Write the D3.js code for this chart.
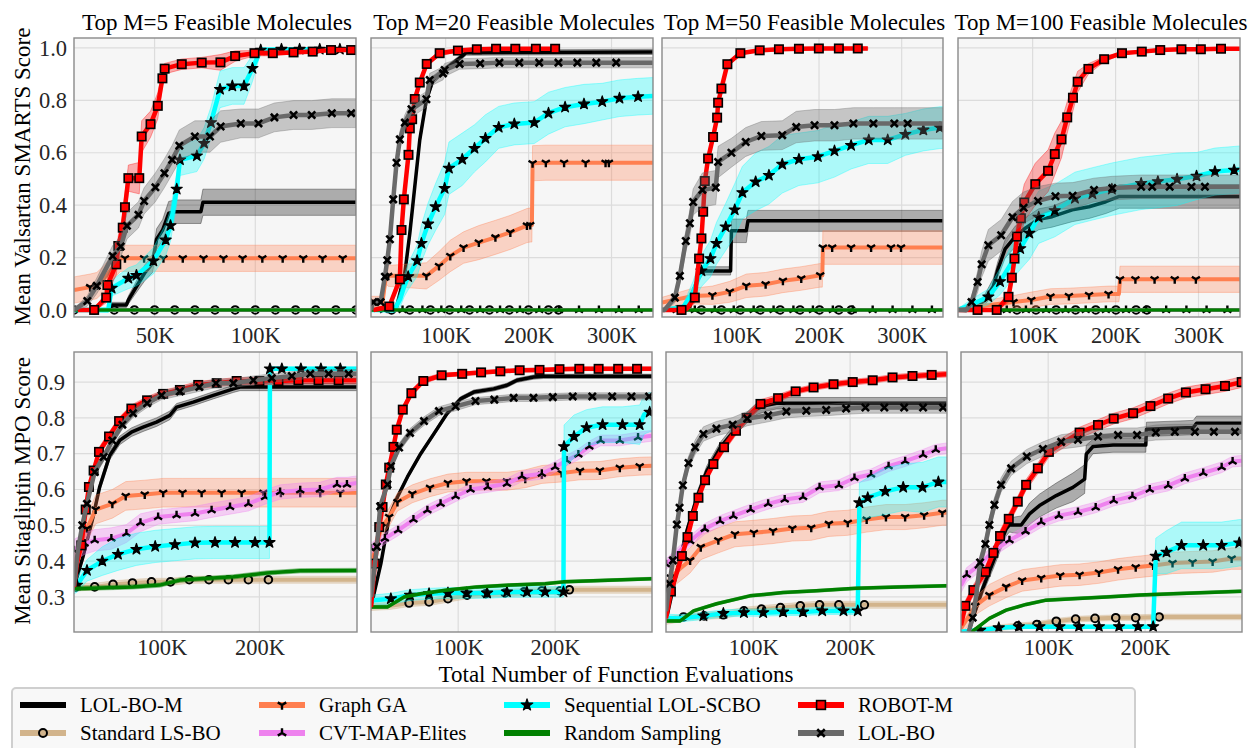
<!DOCTYPE html>
<html><head><meta charset="utf-8">
<script src="https://cdn.jsdelivr.net/npm/d3@7"></script>
<style>body{margin:0;background:#fff;} svg{display:block;} svg text{font-family:'Liberation Serif','Times New Roman',serif !important;}</style>
</head><body><svg id="c" width="1249" height="748"></svg>
<script>
// ---------- DATA: [evaluations (K), mean score, band half-width, (0 = no marker)] ----------
// Top row: Valsartan SMARTS
const val5_lolbom = [[10,0,0.005],[27,0,0.005],[28,0.019,0.01],[36,0.019,0.01],[37,0.038,0.015],[40,0.076,0.02],[45,0.14,0.03],[49,0.178,0.035],[51,0.27,0.04],[54,0.305,0.04],[57,0.369,0.045],[60,0.375,0.045],[73,0.375,0.045],[74,0.411,0.05],[150,0.411,0.05]];
const val5_lsbo = [[10,0,0],[20,0,0],[30,0,0],[40,0,0],[50,0,0],[60,0,0],[70,0,0],[80,0,0],[90,0,0],[100,0,0],[110,0,0],[120,0,0],[130,0,0],[140,0,0],[150,0,0]];
const val5_graphga = [[10,0.076,0.05,0],[18,0.087,0.05],[21.3,0.093,0.05],[25,0.12,0.05,0],[30,0.17,0.05,0],[33,0.197,0.05,0],[35.3,0.197,0.05],[44.8,0.197,0.05],[54.4,0.197,0.05],[64,0.197,0.05],[74.3,0.197,0.05],[84.2,0.197,0.05],[93.7,0.197,0.05],[103.5,0.197,0.05],[113.6,0.197,0.05],[123.8,0.197,0.05],[133.4,0.197,0.05],[143.4,0.197,0.05],[150,0.197,0.05,0]];
const val5_cvt = [[10,0,0,0],[150,0,0,0]];
const val5_seq = [[10,0,0.005,0],[27,0,0.01,0],[28.7,0.083,0.03],[37,0.121,0.04],[41,0.132,0.04],[49.4,0.187,0.05],[55.5,0.267,0.06],[57.9,0.322,0.06],[61,0.461,0.06],[62.6,0.573,0.06],[71,0.588,0.06],[74.6,0.636,0.06],[78,0.715,0.06],[82.5,0.842,0.07],[88.6,0.855,0.07],[94.4,0.855,0.07],[98.6,0.922,0.05],[102.7,0.992,0.01],[113,0.995,0.005],[122,0.995,0.005],[132,0.995,0.005],[142,0.995,0.005],[150,0.995,0.005,0]];
const val5_random = [[10,0,0],[150,0,0]];
const val5_robot = [[12,0,0.005,0],[20,0,0.005],[26,0.047,0.02],[26.6,0.095,0.03],[31,0.174,0.04],[32,0.244,0.04],[34.2,0.314,0.05],[35.3,0.392,0.05],[37,0.503,0.05],[42.4,0.503,0.06],[43.6,0.662,0.06],[48,0.709,0.05],[51.6,0.779,0.05],[53.9,0.884,0.03],[55,0.921,0.02],[63.5,0.938,0.02],[73.4,0.944,0.02],[82.7,0.945,0.03],[90,0.969,0.02],[99.6,0.98,0.01],[108.7,0.98,0.01],[119,0.983,0.005],[128.5,0.986,0.005],[137.6,0.992,0.005],[147.6,0.992,0.005],[150,0.992,0.005,0]];
const val5_lolbo = [[10,0,0.005,0],[16.6,0.034,0.02],[21.3,0.092,0.03],[29.2,0.206,0.04],[33.2,0.242,0.04],[36.3,0.321,0.05],[42,0.363,0.05],[44.8,0.416,0.05],[50.4,0.468,0.055],[54.9,0.522,0.055],[58.7,0.573,0.055],[62.3,0.627,0.06],[70,0.662,0.06],[77.5,0.662,0.06],[82.8,0.70,0.06],[92.8,0.712,0.055],[101.6,0.712,0.055],[109.5,0.735,0.055],[119,0.744,0.055],[128,0.744,0.055],[138,0.751,0.055],[147.6,0.751,0.055],[150,0.751,0.055,0]];

const val20_lolbom = [[10,0,0.005],[40,0,0.005],[50.8,0.14,0.02],[56.8,0.293,0.02],[62.8,0.471,0.02],[68.8,0.649,0.02],[76.8,0.802,0.015],[84.8,0.878,0.015],[100.8,0.922,0.01],[116.8,0.961,0.01],[124.8,0.982,0.01],[350,0.985,0.01]];
const val20_lsbo = [[10,0,0,0],[34.8,0,0],[56.8,0,0],[81.6,0,0],[104.8,0,0],[128.8,0,0],[152.8,0,0],[176.8,0,0],[200,0,0],[224,0,0],[236,0,0]];
const val20_graphga = [[10,0.032,0.02,0],[24,0.032,0.02,0],[28,0.13,0.03,0],[30.8,0.13,0.04],[76.8,0.13,0.05],[92,0.168,0.055],[105.6,0.206,0.06],[121.6,0.238,0.06],[140,0.257,0.065],[160,0.277,0.065],[178,0.296,0.065],[198,0.322,0.065],[202,0.324,0.065],[204,0.324,0.065,0],[204.8,0.56,0.067],[220.8,0.562,0.067],[242.8,0.562,0.067],[268.8,0.562,0.067],[292.8,0.562,0.067],[296.8,0.562,0.067],[350,0.562,0.067,0]];
const val20_cvt = [[10,0,0,0],[25.6,0,0],[48,0,0],[72,0,0],[94.8,0,0],[118.8,0,0],[141.6,0,0],[165.6,0,0],[189.6,0,0],[212.8,0,0],[236.8,0,0],[260.8,0,0],[284.8,0,0],[308.8,0,0],[332.8,0,0],[350,0,0,0]];
const val20_seq = [[10,0,0.005,0],[38,0,0.01,0],[45,0.04,0.03,0],[50,0.09,0.04,0],[54.8,0.127,0.05],[65.6,0.188,0.06],[70.8,0.254,0.07],[78.8,0.328,0.08],[88,0.394,0.09],[98.8,0.464,0.1],[104,0.541,0.1],[120,0.575,0.1],[134.8,0.617,0.09],[148,0.655,0.09],[164,0.697,0.08],[182.8,0.71,0.08],[206.8,0.715,0.08],[224,0.751,0.08],[244,0.774,0.075],[266.8,0.786,0.075],[288.8,0.795,0.07],[309.6,0.808,0.07],[332,0.814,0.07],[350,0.817,0.07,0]];
const val20_random = [[10,0,0],[350,0,0]];
const val20_robot = [[13,0,0.005,0],[32,0.013,0.01],[44.8,0.117,0.02],[46.8,0.305,0.02],[49.6,0.422,0.02],[55.2,0.592,0.02],[56.8,0.693,0.02],[59.6,0.728,0.02],[62.8,0.805,0.02],[68.8,0.868,0.015],[77.2,0.939,0.01],[92.8,0.98,0.01],[114.8,0.99,0.005],[137.6,0.995,0.005],[160.8,0.997,0.005],[184,0.997,0.005],[208.8,0.997,0.005],[232,0.997,0.005],[236,0.997,0.005,0]];
const val20_lolbo = [[10,0,0.005,0],[12.8,0.03,0.01],[21.6,0.03,0.01],[26.8,0.127,0.02],[29.6,0.19,0.03],[32.8,0.27,0.03],[36.8,0.422,0.03],[40.8,0.562,0.03],[44.8,0.651,0.03],[50.8,0.715,0.03],[58.8,0.766,0.03],[76.8,0.804,0.03],[80.8,0.878,0.025],[96.8,0.903,0.025],[98.8,0.916,0.025],[116.8,0.939,0.02],[141.6,0.941,0.02],[164.8,0.944,0.02],[188.8,0.944,0.02],[212.8,0.944,0.02],[236,0.944,0.02],[258.8,0.944,0.02],[281.6,0.944,0.02],[305.6,0.944,0.02],[350,0.944,0.02,0]];

const val50_lolbom = [[10,0,0.005],[43,0,0.005],[47,0.066,0.015],[55,0.13,0.016],[59,0.149,0.016],[93,0.149,0.016],[94,0.302,0.045],[112,0.302,0.045],[114,0.34,0.04],[350,0.34,0.04]];
const val50_lsbo = [[10,0,0,0],[34.4,0,0],[57.7,0,0],[81.9,0,0],[104.8,0,0],[129,0,0],[153,0,0],[177,0,0],[200.6,0,0],[224,0,0],[239,0,0]];
const val50_graphga = [[10,0.028,0.02,0],[47.7,0.053,0.03,0],[71,0.056,0.035],[92,0.069,0.04],[112,0.092,0.045],[135.4,0.098,0.045],[156.3,0.111,0.045],[178.5,0.12,0.045],[201.4,0.132,0.045],[204,0.132,0.045,0],[204.6,0.238,0.064],[215.9,0.238,0.064],[238.8,0.238,0.064],[263,0.238,0.064],[287.1,0.238,0.064],[299.2,0.238,0.064],[350,0.238,0.064,0]];
const val50_cvt = [[10,0,0,0],[27.6,0,0],[49.7,0,0],[73.8,0,0],[96.8,0,0],[120.9,0,0],[145,0,0],[169,0,0],[192.6,0,0],[216.7,0,0],[240.8,0,0],[264.9,0,0],[289,0,0],[313,0,0],[336.6,0,0],[350,0,0,0]];
const val50_seq = [[10,0,0.005,0],[35.6,0.01,0.01,0],[47.7,0.07,0.04,0],[57.7,0.149,0.06],[68.6,0.196,0.07],[75.9,0.254,0.08],[87.1,0.317,0.09],[98,0.382,0.1],[107.3,0.448,0.1],[123.3,0.489,0.11],[139.4,0.514,0.11],[155.5,0.556,0.11],[175.7,0.575,0.1],[198.6,0.585,0.1],[218.7,0.607,0.1],[238.8,0.628,0.09],[260.2,0.649,0.09],[283.1,0.649,0.09],[304.4,0.67,0.08],[326.2,0.687,0.08],[346.3,0.696,0.08],[350,0.696,0.08,0]];
const val50_random = [[10,0,0],[350,0,0]];
const val50_robot = [[10,0,0.005,0],[33.6,0,0.005],[40,0.005,0.01,0],[49.7,0.047,0.02],[54.9,0.196,0.02],[57.7,0.273,0.02],[59.8,0.375,0.02],[61.8,0.492,0.02],[65.8,0.578,0.02],[71.8,0.66,0.02],[76.7,0.734,0.02],[77.9,0.791,0.02],[81.9,0.845,0.02],[89.1,0.938,0.01],[104.8,0.98,0.005],[128.2,0.991,0.005],[151.5,0.995,0.005],[175.7,0.997,0.005],[199.8,0.998,0.005],[224,0.998,0.005],[246.9,0.998,0.005],[259,0.998,0.005,0]];
const val50_lolbo = [[10,0,0.005,0],[13,0,0.005,0],[25.6,0.047,0.02],[31.6,0.13,0.03],[38.8,0.263,0.04],[43.7,0.331,0.05],[47.7,0.412,0.05],[58.9,0.458,0.065],[75,0.467,0.065],[77.9,0.565,0.06],[94,0.60,0.055],[111.3,0.641,0.055],[130.2,0.664,0.055],[155.5,0.667,0.055],[172.4,0.698,0.06],[194.6,0.705,0.06],[218.7,0.705,0.06],[241.6,0.712,0.06],[265.8,0.712,0.06],[291.1,0.712,0.06],[307.2,0.712,0.06],[350,0.712,0.06,0]];

const val100_lolbom = [[10,0,0.005],[30,0,0.005],[42.5,0.04,0.02],[52.6,0.09,0.03],[57.9,0.153,0.03],[66.8,0.233,0.035],[79,0.28,0.04],[91.1,0.312,0.04],[107.3,0.346,0.04],[123.5,0.356,0.04],[147.8,0.382,0.045],[168,0.394,0.045],[188.3,0.413,0.045],[204.5,0.433,0.045],[350,0.433,0.045]];
const val100_lsbo = [[10,0,0,0],[81,0,0],[104,0,0],[128.3,0,0],[151.8,0,0],[176.1,0,0],[200.4,0,0],[224.7,0,0],[237.7,0,0]];
const val100_graphga = [[10,0.003,0.005,0],[50.6,0.02,0.02,0],[76.9,0.03,0.025],[98.4,0.038,0.03],[121.5,0.051,0.03],[143.7,0.053,0.03],[168,0.057,0.03],[191.5,0.061,0.03],[204,0.061,0.03,0],[205.3,0.117,0.05],[223.9,0.117,0.05],[247,0.117,0.05],[271.3,0.117,0.05],[296.8,0.117,0.05],[350,0.117,0.05,0]];
const val100_cvt = [[10,0,0,0],[68.8,0,0],[91.9,0,0],[116.2,0,0],[139.7,0,0],[164,0,0],[188.3,0,0],[212.6,0,0],[237,0,0],[261,0,0],[285.4,0,0],[309.7,0,0],[334.8,0,0],[350,0,0,0]];
const val100_seq = [[10,0,0.005,0],[26,0.02,0.02,0],[46.6,0.05,0.03],[60.7,0.108,0.05],[85,0.234,0.08],[96,0.293,0.1],[107.3,0.354,0.1],[126.7,0.379,0.1],[151,0.426,0.1],[172.1,0.443,0.1],[195.5,0.461,0.1],[230.8,0.483,0.1],[251,0.49,0.1],[274.1,0.499,0.1],[297.6,0.511,0.09],[319.8,0.528,0.09],[342.9,0.534,0.09],[350,0.536,0.09,0]];
const val100_random = [[10,0,0],[350,0,0]];
const val100_robot = [[10,0,0.005,0],[33.6,0,0.005],[56.7,0,0.005],[70.9,0.05,0.02],[74.9,0.123,0.03],[78.1,0.196,0.04],[81,0.28,0.05],[85.8,0.35,0.07],[89.9,0.41,0.07],[103.2,0.48,0.08],[118.6,0.531,0.08],[126.7,0.595,0.08],[134.8,0.651,0.07],[141.7,0.735,0.06],[148.6,0.81,0.05],[154.3,0.871,0.04],[167.2,0.92,0.02],[186.2,0.957,0.01],[207.7,0.98,0.005],[231.6,0.986,0.005],[253.8,0.992,0.005],[279.4,0.995,0.005],[302.8,0.995,0.005],[327.1,0.997,0.005],[350,0.997,0.005,0]];
const val100_lolbo = [[10,0,0.005,0],[20,0,0.01,0],[26.3,0.03,0.02],[33.6,0.107,0.04],[38.5,0.174,0.05],[46.6,0.247,0.06],[62,0.285,0.06],[75.7,0.354,0.06],[89.1,0.39,0.06],[106.5,0.416,0.055],[127.5,0.434,0.05],[148.2,0.436,0.05],[174,0.458,0.045],[196,0.465,0.045],[230.8,0.47,0.045],[244.1,0.47,0.045],[265.2,0.47,0.045],[291.5,0.47,0.045],[307.7,0.47,0.045],[350,0.47,0.045,0]];

// Bottom row: Sitagliptin MPO
const sit5_lolbom = [[10,0.328,0.01],[19.2,0.412,0.01],[29.5,0.523,0.012],[36.3,0.607,0.012],[46.6,0.695,0.012],[56.8,0.737,0.012],[68.8,0.76,0.012],[80.8,0.774,0.012],[94.5,0.788,0.012],[108.2,0.807,0.012],[115.1,0.83,0.01],[132.2,0.844,0.01],[152.7,0.863,0.01],[173.3,0.881,0.01],[180.1,0.886,0.01],[300,0.886,0.01]];
const sit5_lsbo = [[10,0.328,0.01,0],[12.3,0.328,0.01],[31.2,0.328,0.01],[50,0.335,0.01],[69.9,0.339,0.01],[89.4,0.342,0.01],[108.9,0.342,0.01],[128.1,0.348,0.01],[148.3,0.348,0.01],[168.2,0.348,0.01],[188.7,0.348,0.01],[209.2,0.348,0.01],[300,0.348,0.01,0]];
const sit5_graphga = [[10,0.393,0.03,0],[23.3,0.491,0.035],[32.2,0.544,0.04],[49.3,0.56,0.04],[63,0.582,0.04],[82.5,0.586,0.04],[101.4,0.591,0.04],[121.2,0.591,0.04],[140.8,0.591,0.04],[161.3,0.591,0.04],[181.8,0.591,0.04],[204.1,0.591,0.04],[222,0.591,0.04],[241.8,0.591,0.04],[262.3,0.591,0.04],[282.9,0.591,0.04],[300,0.591,0.04,0]];
const sit5_cvt = [[10,0.43,0.03],[20.9,0.449,0.03],[31.2,0.458,0.03],[48.3,0.463,0.03],[63.7,0.477,0.025],[78.1,0.507,0.025],[96.2,0.523,0.02],[115.1,0.528,0.02],[134,0.533,0.02],[151,0.542,0.02],[169.9,0.551,0.02],[188.7,0.56,0.02],[205.8,0.579,0.02],[221.2,0.593,0.02],[241.8,0.598,0.02],[262,0.6,0.02],[279.5,0.614,0.02],[289.7,0.614,0.02],[300,0.618,0.02,0]];
const sit5_seq = [[10,0.319,0.01,0],[13,0.333,0.02],[23.3,0.374,0.03],[39,0.4,0.04],[55.1,0.419,0.045],[74,0.433,0.045],[93.2,0.441,0.045],[113.4,0.446,0.045],[134,0.451,0.045],[154.5,0.452,0.045],[175,0.452,0.045],[195.5,0.452,0.045],[210.3,0.452,0.045],[210.8,0.937,0.005],[223,0.937,0.005],[242.5,0.937,0.005],[263,0.937,0.005],[282.9,0.937,0.005],[300,0.937,0.005,0]];
const sit5_random = [[10,0.323,0.006],[70.5,0.328,0.006],[97.9,0.333,0.006],[118.5,0.347,0.006],[173.3,0.356,0.006],[207.5,0.367,0.006],[241.8,0.373,0.006],[300,0.374,0.006]];
const sit5_robot = [[10,0.328,0.01,0],[13,0.393,0.01,0],[17.5,0.444,0.012],[22,0.544,0.012],[25.3,0.607,0.012],[30.1,0.653,0.012],[35.6,0.705,0.012],[45.9,0.748,0.012],[56.2,0.791,0.01],[68.8,0.826,0.01],[84.9,0.849,0.01],[101.4,0.867,0.01],[118.5,0.878,0.01],[137.3,0.892,0.01],[156.2,0.897,0.01],[176.7,0.903,0.01],[200,0.903,0.01],[219.5,0.903,0.01],[240,0.905,0.01],[260.6,0.905,0.01],[281.2,0.905,0.01],[300,0.905,0.01,0]];
const sit5_lolbo = [[10,0.33,0.01,0],[14,0.43,0.012,0],[18.5,0.5,0.012],[23.3,0.56,0.012],[31.2,0.649,0.012],[40.4,0.691,0.012],[49.3,0.737,0.012],[59.6,0.781,0.012],[70.5,0.813,0.012],[84.9,0.841,0.012],[99.7,0.863,0.012],[118.5,0.874,0.012],[138.4,0.886,0.012],[155.5,0.897,0.012],[173.3,0.897,0.012],[193.8,0.905,0.012],[212.7,0.911,0.012],[233.2,0.917,0.012],[252.1,0.923,0.012],[270.9,0.923,0.012],[291.4,0.923,0.012],[300,0.923,0.012,0]];

const sit20_lolbom = [[10,0.272,0.005],[20.2,0.393,0.006],[28.8,0.523,0.006],[37.3,0.579,0.006],[47.6,0.635,0.006],[61.3,0.7,0.006],[75,0.756,0.006],[88.7,0.813,0.006],[102.4,0.853,0.006],[116.1,0.872,0.006],[136.6,0.881,0.006],[150.3,0.891,0.006],[160.6,0.905,0.006],[177.7,0.914,0.006],[188,0.916,0.006],[300,0.916,0.006]];
const sit20_lsbo = [[10,0.272,0.01,0],[30,0.275,0.01,0],[49.3,0.283,0.01],[69.9,0.286,0.01],[89.4,0.295,0.01],[109.2,0.305,0.01],[128.4,0.309,0.01],[148.3,0.311,0.01],[167.8,0.314,0.01],[186.3,0.317,0.01],[205.1,0.317,0.01],[214.7,0.32,0.01],[300,0.32,0.01,0]];
const sit20_graphga = [[10,0.393,0.025,0],[20.9,0.495,0.025],[28.8,0.523,0.025],[37.3,0.565,0.025],[52.7,0.588,0.025],[70.9,0.605,0.025],[89.4,0.618,0.025],[108.6,0.623,0.025],[129.1,0.623,0.025],[150.3,0.623,0.025],[169.2,0.63,0.025],[186.3,0.642,0.025],[206.8,0.646,0.025],[225.7,0.652,0.025],[246.2,0.653,0.025],[266.8,0.661,0.025],[287.3,0.665,0.025],[300,0.666,0.025,0]];
const sit20_cvt = [[10,0.435,0.015],[24.3,0.463,0.015],[38,0.486,0.015],[53.8,0.516,0.015],[68.2,0.542,0.015],[81.8,0.56,0.015],[97.3,0.581,0.015],[112.7,0.6,0.015],[130.5,0.607,0.015],[150.3,0.616,0.015],[165.8,0.637,0.015],[186.3,0.644,0.015],[200,0.663,0.015],[212,0.681,0.015],[224,0.698,0.015],[235.3,0.72,0.015],[247,0.737,0.015],[266.8,0.737,0.015],[285.6,0.745,0.015],[300,0.75,0.015,0]];
const sit20_seq = [[10,0.29,0.015,0],[30.5,0.295,0.015],[50.3,0.305,0.015],[69.9,0.309,0.015],[89.4,0.311,0.015],[108.6,0.311,0.015],[129.8,0.311,0.015],[150.3,0.314,0.015],[170.9,0.314,0.015],[189.7,0.314,0.015],[208.6,0.314,0.015],[209.2,0.72,0.06],[219.5,0.748,0.06],[232.5,0.773,0.05],[249,0.781,0.05],[269.5,0.781,0.05],[287.3,0.781,0.055],[292,0.81,0.055,0],[297.6,0.816,0.055],[300,0.816,0.055,0]];
const sit20_random = [[10,0.272,0.004],[27,0.272,0.004],[44.2,0.3,0.004],[61.3,0.309,0.004],[88.7,0.319,0.004],[119.5,0.328,0.004],[153.8,0.333,0.004],[189.7,0.337,0.004],[208.6,0.342,0.004],[239.4,0.345,0.004],[300,0.351,0.004]];
const sit20_robot = [[10,0.272,0.01,0],[14,0.393,0.01],[18.5,0.495,0.01],[21.9,0.551,0.01],[25.3,0.614,0.01],[28.8,0.661,0.01],[33.2,0.719,0.01],[36.6,0.767,0.01],[42.8,0.823,0.01],[51.7,0.869,0.01],[64,0.903,0.008],[82.9,0.919,0.006],[104.1,0.923,0.005],[123.6,0.927,0.005],[143.5,0.93,0.005],[163.4,0.933,0.005],[183.9,0.934,0.005],[204.5,0.936,0.005],[225,0.937,0.005],[244.9,0.937,0.005],[265.1,0.937,0.005],[284.6,0.937,0.005],[300,0.937,0.005,0]];
const sit20_lolbo = [[10,0.3,0.01,0],[16.1,0.44,0.012],[19.5,0.553,0.012],[27,0.614,0.012],[30.5,0.665,0.012],[39,0.717,0.012],[50.3,0.758,0.012],[64.7,0.791,0.012],[80.1,0.819,0.012],[97.3,0.832,0.012],[117.8,0.847,0.01],[137.3,0.851,0.01],[157.2,0.856,0.01],[177.7,0.856,0.01],[197.6,0.858,0.01],[218.2,0.86,0.01],[238.4,0.86,0.01],[258.9,0.86,0.01],[278.8,0.86,0.01],[297,0.86,0.01],[300,0.86,0.01,0]];

const sit50_lolbom = [[10,0.233,0.005],[21.2,0.372,0.01],[31.5,0.484,0.012],[41.8,0.577,0.014],[52.1,0.651,0.015],[65.8,0.716,0.015],[79.5,0.762,0.015],[93.2,0.8,0.015],[103.4,0.825,0.016],[113.7,0.835,0.016],[124,0.841,0.016],[300,0.841,0.016]];
const sit50_lsbo = [[10,0.233,0.01,0],[24,0.24,0.01,0],[28.1,0.244,0.01],[49.3,0.247,0.01],[69.2,0.25,0.01],[90.4,0.261,0.01],[108.6,0.266,0.01],[128.1,0.27,0.01],[148.6,0.275,0.01],[168.5,0.278,0.01],[188.4,0.278,0.01],[214.7,0.278,0.01],[300,0.278,0.01,0]];
const sit50_graphga = [[10,0.3,0.03,0],[15,0.354,0.03],[25,0.38,0.035,0],[34.9,0.402,0.035],[45.9,0.439,0.035],[64,0.458,0.035],[81.2,0.475,0.035],[100.7,0.479,0.035],[120.5,0.484,0.035],[140.4,0.491,0.035],[159.9,0.493,0.035],[178.1,0.504,0.035],[197.6,0.507,0.035],[217.1,0.516,0.035],[237,0.523,0.035],[256.8,0.523,0.035],[276.4,0.528,0.035],[295.2,0.535,0.035],[300,0.535,0.035,0]];
const sit50_cvt = [[10,0.391,0.015],[34.9,0.456,0.015],[50,0.49,0.015],[65.8,0.512,0.015],[79.5,0.526,0.015],[97.3,0.544,0.015],[115.4,0.56,0.015],[132.5,0.572,0.015],[151.4,0.579,0.015],[168.5,0.606,0.015],[188.4,0.612,0.015],[204.5,0.632,0.015],[221.6,0.642,0.015],[239.7,0.665,0.015],[256.8,0.679,0.015],[275.3,0.697,0.015],[288.4,0.711,0.015],[300,0.715,0.015,0]];
const sit50_seq = [[10,0.242,0.01,0],[24,0.24,0.01,0],[48.6,0.247,0.01],[69.2,0.254,0.01],[90.4,0.256,0.01],[110.3,0.256,0.01],[130.8,0.258,0.01],[151.4,0.258,0.01],[171.2,0.261,0.01],[193.2,0.261,0.01],[207.9,0.261,0.01],[209.6,0.563,0.056],[218.2,0.577,0.056],[236.3,0.595,0.065],[254.8,0.606,0.065],[274.7,0.606,0.07],[291.1,0.621,0.07],[300,0.621,0.07,0]];
const sit50_random = [[10,0.233,0.004],[24.7,0.233,0.004],[38.4,0.261,0.004],[62.3,0.281,0.004],[96.6,0.303,0.004],[130.8,0.312,0.004],[165.1,0.317,0.004],[206.2,0.324,0.004],[250.7,0.328,0.004],[300,0.331,0.004]];
const sit50_robot = [[10,0.24,0.01,0],[15.1,0.315,0.012],[26.4,0.414,0.012],[32.2,0.467,0.012],[37.7,0.526,0.012],[43.5,0.577,0.012],[50.3,0.626,0.012],[58.9,0.671,0.012],[69.9,0.718,0.012],[82.2,0.764,0.012],[93.2,0.8,0.012],[107.5,0.839,0.012],[125.7,0.855,0.01],[143.8,0.874,0.008],[162.3,0.885,0.008],[182.9,0.894,0.008],[202.7,0.9,0.008],[223.3,0.905,0.008],[243.8,0.913,0.008],[264.4,0.917,0.008],[284.2,0.92,0.008],[300,0.922,0.008,0]];
const sit50_lolbo = [[10,0.26,0.01,0],[13.7,0.337,0.015],[17.1,0.402,0.015],[21.2,0.502,0.015],[24,0.549,0.015],[27.4,0.612,0.015],[33.2,0.674,0.018],[40.1,0.718,0.02],[48.6,0.755,0.02],[62,0.77,0.02],[78.8,0.781,0.02],[93.8,0.798,0.02],[115.4,0.807,0.018],[134.2,0.818,0.018],[154.8,0.82,0.016],[175.3,0.822,0.016],[195.9,0.826,0.016],[215.8,0.829,0.016],[235.3,0.829,0.016],[255.8,0.829,0.016],[275.3,0.829,0.016],[295.9,0.829,0.016],[300,0.829,0.016,0]];

const sit100_lolbom = [[18,0.203,0.005],[22.1,0.24,0.01],[32.4,0.323,0.015],[44.5,0.407,0.02],[56.6,0.49,0.02],[60,0.501,0.02],[72.1,0.501,0.025],[80.7,0.532,0.03],[91,0.555,0.032],[108.3,0.583,0.035],[125.5,0.606,0.04],[137.6,0.629,0.04],[139.3,0.699,0.025],[146.2,0.72,0.02],[166.9,0.724,0.02],[200.7,0.724,0.02],[201.4,0.768,0.02],[249.7,0.773,0.02],[253.1,0.785,0.02],[300,0.785,0.02]];
const sit100_lsbo = [[10,0.2,0.008,0],[22,0.203,0.008,0],[49,0.214,0.008,0],[68.6,0.219,0.008],[88.3,0.223,0.008],[108.3,0.232,0.008],[128.3,0.238,0.008],[148.3,0.24,0.008],[169.7,0.242,0.008],[190.3,0.242,0.008],[214.5,0.244,0.008],[300,0.244,0.008,0]];
const sit100_graphga = [[10,0.212,0.02,0],[24.8,0.275,0.025],[39.3,0.305,0.03],[56.6,0.328,0.03],[73.1,0.346,0.03],[92.8,0.353,0.03],[112.4,0.36,0.03],[132.4,0.362,0.03],[152.4,0.368,0.03],[172.1,0.377,0.03],[190.3,0.383,0.03],[208.3,0.388,0.03],[228.3,0.395,0.03],[249,0.397,0.03],[269.7,0.399,0.03],[289.3,0.407,0.03],[300,0.407,0.03,0]];
const sit100_cvt = [[10,0.332,0.02,0],[15.9,0.362,0.02],[28.3,0.388,0.02],[44.5,0.43,0.015],[60,0.458,0.015],[76.6,0.483,0.015],[92.8,0.509,0.015],[111,0.527,0.015],[130.7,0.537,0.015],[149,0.55,0.015],[167.6,0.569,0.015],[186.9,0.581,0.015],[204.8,0.6,0.015],[223.8,0.611,0.015],[241,0.631,0.015],[260,0.646,0.015],[279,0.662,0.015],[290.3,0.678,0.015],[300,0.68,0.015,0]];
const sit100_seq = [[10,0.203,0.003,0],[25.5,0.207,0.004,0],[29.7,0.207,0.004],[49,0.214,0.004],[69.7,0.217,0.004],[91,0.217,0.004],[111.7,0.217,0.004],[131.7,0.217,0.004],[152.4,0.217,0.004],[173.1,0.217,0.004],[192.8,0.217,0.004],[208.3,0.217,0.004],[211,0.414,0.05],[222.1,0.425,0.06],[237.6,0.444,0.065],[260,0.444,0.065],[279,0.444,0.065],[297.2,0.451,0.065],[300,0.451,0.065,0]];
const sit100_random = [[20,0.2,0.004],[39.3,0.24,0.004],[56.6,0.263,0.004],[77.2,0.279,0.004],[97.9,0.291,0.004],[125.5,0.295,0.004],[160,0.3,0.004],[194.5,0.305,0.004],[229,0.309,0.004],[300,0.316,0.004]];
const sit100_robot = [[10,0.221,0.01,0],[14.5,0.275,0.015],[22.8,0.319,0.015],[35.2,0.37,0.015],[43.4,0.423,0.015],[50.3,0.47,0.015],[59.3,0.518,0.015],[68.6,0.566,0.015],[77.2,0.613,0.015],[89.3,0.659,0.015],[100.7,0.705,0.015],[115,0.73,0.015,0],[132.4,0.759,0.015],[151.4,0.78,0.015],[167.6,0.798,0.015],[187.6,0.813,0.015],[205.5,0.833,0.015],[223.8,0.854,0.015],[242.1,0.871,0.015],[262.4,0.88,0.015],[282.4,0.889,0.015],[299.7,0.9,0.015]];
const sit100_lolbo = [[18,0.203,0.01,0],[22.1,0.242,0.015],[25.5,0.3,0.015,0],[29.7,0.396,0.02],[35.2,0.448,0.02],[39.3,0.501,0.02],[44.5,0.557,0.02],[51.4,0.613,0.02],[61.7,0.659,0.02],[77.9,0.692,0.02],[94.5,0.713,0.02],[113.4,0.733,0.02],[130.7,0.739,0.02],[151.4,0.748,0.02],[172.1,0.752,0.02],[191.7,0.752,0.02],[211,0.759,0.021],[230.7,0.761,0.021],[251.4,0.761,0.021],[271,0.761,0.021],[292.8,0.761,0.021],[300,0.761,0.021,0]];

const panelTitles = ['Top M=5 Feasible Molecules','Top M=20 Feasible Molecules','Top M=50 Feasible Molecules','Top M=100 Feasible Molecules'];
const seriesKeys = ['lolbom','lsbo','graphga','cvt','seq','random','robot','lolbo'];
const seriesNames = ['LOL-BO-M','Standard LS-BO','Graph GA','CVT-MAP-Elites','Sequential LOL-SCBO','Random Sampling','ROBOT-M','LOL-BO'];
const topYTicks = [0,0.2,0.4,0.6,0.8,1.0];
const botYTicks = [0.3,0.4,0.5,0.6,0.7,0.8,0.9];
const topXTicks = [[50,100],[100,200,300],[100,200,300],[100,200,300]];
const botXTicks = [100,200];
const rowLabels = ['Mean Valsartan SMARTS Score','Mean Sitagliptin MPO Score'];
const xAxisTitle = 'Total Number of Function Evaluations';

const D = {
  val5:{lolbom:val5_lolbom,lsbo:val5_lsbo,graphga:val5_graphga,cvt:val5_cvt,seq:val5_seq,random:val5_random,robot:val5_robot,lolbo:val5_lolbo},
  val20:{lolbom:val20_lolbom,lsbo:val20_lsbo,graphga:val20_graphga,cvt:val20_cvt,seq:val20_seq,random:val20_random,robot:val20_robot,lolbo:val20_lolbo},
  val50:{lolbom:val50_lolbom,lsbo:val50_lsbo,graphga:val50_graphga,cvt:val50_cvt,seq:val50_seq,random:val50_random,robot:val50_robot,lolbo:val50_lolbo},
  val100:{lolbom:val100_lolbom,lsbo:val100_lsbo,graphga:val100_graphga,cvt:val100_cvt,seq:val100_seq,random:val100_random,robot:val100_robot,lolbo:val100_lolbo},
  sit5:{lolbom:sit5_lolbom,lsbo:sit5_lsbo,graphga:sit5_graphga,cvt:sit5_cvt,seq:sit5_seq,random:sit5_random,robot:sit5_robot,lolbo:sit5_lolbo},
  sit20:{lolbom:sit20_lolbom,lsbo:sit20_lsbo,graphga:sit20_graphga,cvt:sit20_cvt,seq:sit20_seq,random:sit20_random,robot:sit20_robot,lolbo:sit20_lolbo},
  sit50:{lolbom:sit50_lolbom,lsbo:sit50_lsbo,graphga:sit50_graphga,cvt:sit50_cvt,seq:sit50_seq,random:sit50_random,robot:sit50_robot,lolbo:sit50_lolbo},
  sit100:{lolbom:sit100_lolbom,lsbo:sit100_lsbo,graphga:sit100_graphga,cvt:sit100_cvt,seq:sit100_seq,random:sit100_random,robot:sit100_robot,lolbo:sit100_lolbo}
};

// ---------- STYLE ----------
const STYLE = {
  lolbom:{color:'#000000', lw:3.5, marker:null, ba:0.3},
  lsbo:{color:'#d2b48c', lw:4, marker:'circle', ba:0.45},
  graphga:{color:'#ff7f50', lw:4, marker:'tridown', ba:0.3},
  cvt:{color:'#ee82ee', lw:4, marker:'triup', ba:0.35},
  seq:{color:'#00ffff', lw:4.5, marker:'star', ba:0.3},
  random:{color:'#008000', lw:3.5, marker:null, ba:0.3},
  robot:{color:'#ff0000', lw:4.5, marker:'square', ba:0.3},
  lolbo:{color:'#696969', lw:4.5, marker:'x', ba:0.35}
};
const FONT_T = 23, FONT_TICK = 22.5, FONT_LEG = 21, FONT_XT = 23;

const svg = d3.select('#c');
const defs = svg.append('defs');

const layout = [
  {key:'val5', row:0, x0:74, x1:356, xdom:[10,150]},
  {key:'val20', row:0, x0:371, x1:653, xdom:[10,350]},
  {key:'val50', row:0, x0:662, x1:943, xdom:[10,350]},
  {key:'val100', row:0, x0:958, x1:1240, xdom:[10,350]},
  {key:'sit5', row:1, x0:74, x1:357, xdom:[10,300]},
  {key:'sit20', row:1, x0:371, x1:652, xdom:[10,300]},
  {key:'sit50', row:1, x0:666, x1:947, xdom:[10,300]},
  {key:'sit100', row:1, x0:961, x1:1242, xdom:[10,300]}
];
const rows = [
  {y0:38, y1:317, ydom:[-0.027,1.038], yticks:topYTicks, pad:10},
  {y0:352, y1:632, ydom:[0.202,0.984], yticks:botYTicks, pad:7.5}
];

function drawMarker(g, type, color, px, py, s) {
  s = s || 1;
  if (type === 'square') {
    g.append('rect').attr('x', px-4.2*s).attr('y', py-4.2*s).attr('width', 8.4*s).attr('height', 8.4*s)
      .attr('fill', color).attr('stroke', '#000').attr('stroke-width', 1.6);
  } else if (type === 'x') {
    g.append('path').attr('d', `M${px-3.6*s},${py-3.6*s}L${px+3.6*s},${py+3.6*s}M${px-3.6*s},${py+3.6*s}L${px+3.6*s},${py-3.6*s}`)
      .attr('stroke', '#000').attr('stroke-width', 2.6).attr('fill', 'none');
  } else if (type === 'tridown') {
    g.append('path').attr('d', `M${px},${py}L${px},${py+4.5*s}M${px},${py}L${px-4*s},${py-2.5*s}M${px},${py}L${px+4*s},${py-2.5*s}`)
      .attr('stroke', '#000').attr('stroke-width', 2.4).attr('fill', 'none');
  } else if (type === 'triup') {
    g.append('path').attr('d', `M${px},${py}L${px},${py-4.5*s}M${px},${py}L${px-4*s},${py+2.5*s}M${px},${py}L${px+4*s},${py+2.5*s}`)
      .attr('stroke', '#000').attr('stroke-width', 2.4).attr('fill', 'none');
  } else if (type === 'star') {
    g.append('path').attr('d', d3.symbol(d3.symbolStar, 38*s*s)()).attr('transform', `translate(${px},${py})`)
      .attr('fill', '#000').attr('stroke', '#000').attr('stroke-width', 1.2).attr('stroke-linejoin', 'round');
  } else if (type === 'circle') {
    g.append('circle').attr('cx', px).attr('cy', py).attr('r', 3.8*s)
      .attr('fill', 'none').attr('stroke', '#000').attr('stroke-width', 2);
  }
}

layout.forEach((p, i) => {
  const r = rows[p.row];
  const x = d3.scaleLinear().domain(p.xdom).range([p.x0, p.x1]);
  const y = d3.scaleLinear().domain(r.ydom).range([r.y1, r.y0]);
  const g = svg.append('g');
  const w = p.x1 - p.x0, h = r.y1 - r.y0;
  defs.append('clipPath').attr('id', 'clip'+i).append('rect').attr('x', p.x0).attr('y', r.y0).attr('width', w).attr('height', h);
  g.append('rect').attr('x', p.x0).attr('y', r.y0).attr('width', w).attr('height', h).attr('fill', '#f6f6f6');
  const xt = p.row === 0 ? topXTicks[i] : botXTicks;
  g.selectAll('.gx').data(xt).enter().append('line')
    .attr('x1', d=>x(d)).attr('x2', d=>x(d)).attr('y1', r.y0).attr('y2', r.y1)
    .attr('stroke', '#dcdcdc').attr('stroke-width', 1.2);
  g.selectAll('.gy').data(r.yticks).enter().append('line')
    .attr('x1', p.x0).attr('x2', p.x1).attr('y1', d=>y(d)).attr('y2', d=>y(d))
    .attr('stroke', '#dcdcdc').attr('stroke-width', 1.2);

  const pg = g.append('g').attr('clip-path', `url(#clip${i})`);
  const data = D[p.key];
  seriesKeys.forEach(k => {
    const st = STYLE[k];
    const pts = data[k];
    const area = d3.area().x(d=>x(d[0])).y0(d=>y(d[1]-d[2])).y1(d=>y(d[1]+d[2]));
    pg.append('path').attr('d', area(pts)).attr('fill', st.color).attr('fill-opacity', st.ba)
      .attr('stroke', st.color).attr('stroke-opacity', 0.35).attr('stroke-width', 1);
    const line = d3.line().x(d=>x(d[0])).y(d=>y(d[1]));
    pg.append('path').attr('d', line(pts)).attr('fill', 'none').attr('stroke', st.color)
      .attr('stroke-width', st.lw).attr('stroke-linejoin', 'round');
    if (st.marker) {
      pts.filter(d => d[3] !== 0).forEach(d => drawMarker(pg, st.marker, st.color, x(d[0]), y(d[1])));
    }
  });
  g.append('rect').attr('x', p.x0).attr('y', r.y0).attr('width', w).attr('height', h)
    .attr('fill', 'none').attr('stroke', '#8a8a8a').attr('stroke-width', 1.4);

  const xa = g.append('g').attr('transform', `translate(0,${r.y1})`)
    .call(d3.axisBottom(x).tickValues(xt).tickFormat(d=>d+'K').tickSize(0).tickPadding(r.pad));
  xa.select('.domain').remove();
  xa.attr('font-family', null).attr('font-size', FONT_TICK);
  xa.selectAll('text').attr('font-size', FONT_TICK).attr('fill', '#262626');

  if (i % 4 === 0) {
    const ya = g.append('g').attr('transform', `translate(${p.x0},0)`)
      .call(d3.axisLeft(y).tickValues(r.yticks).tickFormat(d3.format('.1f')).tickSize(0).tickPadding(p.row === 0 ? 7 : 9));
    ya.select('.domain').remove();
    ya.attr('font-family', null).attr('font-size', FONT_TICK);
    ya.selectAll('text').attr('font-size', FONT_TICK).attr('fill', '#262626');
    svg.append('text').attr('transform', `translate(22,${(r.y0 + r.y1)/2 - 1}) rotate(-90)`)
      .attr('text-anchor', 'middle').attr('dominant-baseline', 'central')
      .attr('font-size', FONT_T).attr('fill', '#000').text(rowLabels[p.row]);
  }
  if (p.row === 0) {
    svg.append('text').attr('x', (p.x0 + p.x1)/2 + 2).attr('y', 30).attr('text-anchor', 'middle')
      .attr('font-size', FONT_T).attr('fill', '#000').text(panelTitles[i]);
  }
});

svg.append('text').attr('x', 616).attr('y', 681.5).attr('text-anchor', 'middle')
  .attr('font-size', FONT_XT).attr('fill', '#000').text(xAxisTitle);

// ---------- LEGEND ----------
const lg = svg.append('g');
lg.append('rect').attr('x', 12).attr('y', 688).attr('width', 1123).attr('height', 80).attr('rx', 4)
  .attr('fill', '#f8f8f8').attr('stroke', '#cfcfcf').attr('stroke-width', 2);
const colX = [20, 259, 504, 798, 991];
const rowY = [705, 733];
seriesKeys.forEach((k, j) => {
  const col = Math.floor(j / 2), rw = j % 2;
  const st = STYLE[k];
  const lx = colX[col], ly = rowY[rw];
  lg.append('line').attr('x1', lx).attr('x2', lx + 46).attr('y1', ly).attr('y2', ly)
    .attr('stroke', st.color).attr('stroke-width', 6);
  if (st.marker) drawMarker(lg, st.marker, st.color, lx + 23, ly, 1.05);
  lg.append('text').attr('x', lx + 60).attr('y', ly).attr('dominant-baseline', 'central')
    .attr('font-size', FONT_LEG).attr('fill', '#000').text(seriesNames[j]);
});
</script></body></html>
